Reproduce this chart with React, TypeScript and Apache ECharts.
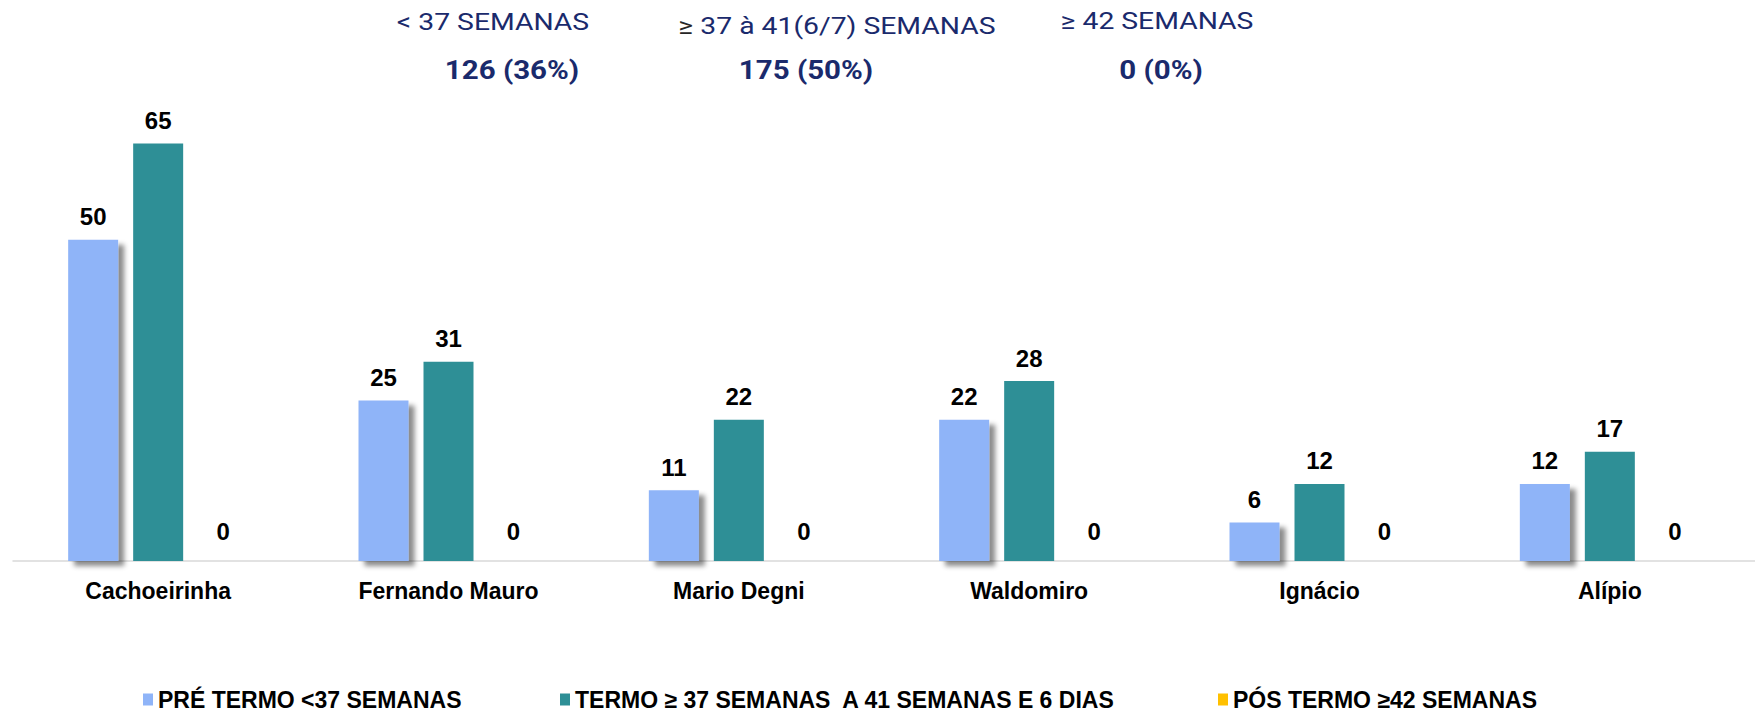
import React, { useEffect, useRef } from "react";
import * as echarts from "echarts";

const categories = ["Cachoeirinha", "Fernando Mauro", "Mario Degni", "Waldomiro", "Ignácio", "Alípio"];
const preTermo = [50, 25, 11, 22, 6, 12];
const termo = [65, 31, 22, 28, 12, 17];
const posTermo = [0, 0, 0, 0, 0, 0];
const seriesNames = [
  "PRÉ TERMO <37 SEMANAS",
  "TERMO ≥ 37 SEMANAS  A 41 SEMANAS E 6 DIAS",
  "PÓS TERMO ≥42 SEMANAS",
];
const headerLabels = ["< 37 SEMANAS", "{g|≥} 37 à 41(6/7) SEMANAS", "≥ 42 SEMANAS"];
const headerValues = ["126 (36%)", "175 (50%)", "0 (0%)"];

const NAVY = "#1a2a6c";
const BLUE = "#8fb4f8";
const TEAL = "#2e8f96";
const YELLOW = "#ffc000";

export default function App() {
  const ref = useRef<HTMLDivElement>(null);
  useEffect(() => {
    if (!ref.current) return;
    const chart = echarts.init(ref.current, null, { renderer: "svg" });
    const labelStyle = {
      show: true,
      position: "top",
      distance: 11,
      fontFamily: "Liberation Sans, Arial, sans-serif",
      fontWeight: "bold",
      fontSize: 24,
      color: "#000",
    };
    const headerX = [493, 837, 1157];
    const headerY = [22, 26, 21];
    const valueX = [512, 806, 1161];
    const graphics: any[] = [];
    headerLabels.forEach((t, i) => {
      graphics.push({
        type: "text",
        x: headerX[i],
        y: headerY[i],
        scaleX: 1.18,
        style: {
          text: t,
          fontFamily: "Roboto, sans-serif",
          fontSize: 24,
          fill: NAVY,
          align: "center",
          verticalAlign: "middle",
          rich: { g: { fontFamily: "Roboto, sans-serif", fontSize: 24, fill: "#262626" } },
        },
      });
    });
    headerValues.forEach((t, i) => {
      graphics.push({
        type: "text",
        x: valueX[i],
        y: 71,
        scaleX: 1.18,
        style: {
          text: t,
          fontFamily: "Roboto, sans-serif",
          fontWeight: "bold",
          fontSize: 25,
          fill: NAVY,
          align: "center",
          verticalAlign: "middle",
        },
      });
    });
    const legendLeft = [143, 560, 1218];
    const colors = [BLUE, TEAL, YELLOW];
    chart.setOption({
      animation: false,
      color: colors,
      grid: { left: 13, right: 0, top: 47, bottom: 151, containLabel: false },
      legend: seriesNames.map((n, i) => ({
        data: [n],
        left: legendLeft[i],
        top: 688,
        padding: 0,
        icon: "rect",
        itemWidth: 10,
        itemHeight: 12,
        selectedMode: false,
        textStyle: {
          fontFamily: "Liberation Sans, Arial, sans-serif",
          fontWeight: "bold",
          fontSize: 23,
          color: "#000",
        },
      })),
      xAxis: {
        type: "category",
        data: categories,
        axisLine: { lineStyle: { color: "#d9d9d9", width: 1.5 } },
        axisTick: { show: false },
        axisLabel: {
          margin: 18,
          fontFamily: "Liberation Sans, Arial, sans-serif",
          fontWeight: "bold",
          fontSize: 23,
          color: "#000",
        },
      },
      yAxis: {
        type: "value",
        min: 0,
        max: 80,
        show: false,
        splitLine: { show: false },
      },
      series: [
        {
          name: seriesNames[0],
          type: "bar",
          data: preTermo,
          barWidth: 50,
          barGap: "30%",
          itemStyle: {
            color: BLUE,
            shadowColor: "rgba(0,0,0,0.45)",
            shadowBlur: 5,
            shadowOffsetX: 6,
            shadowOffsetY: 5,
          },
          label: labelStyle,
        },
        {
          name: seriesNames[1],
          type: "bar",
          data: termo,
          barWidth: 50,
          barGap: "30%",
          itemStyle: { color: TEAL },
          label: labelStyle,
        },
        {
          name: seriesNames[2],
          type: "bar",
          data: posTermo,
          barWidth: 50,
          barGap: "30%",
          itemStyle: { color: YELLOW },
          label: { ...labelStyle, distance: 18 },
        },
      ],
      graphic: graphics,
    });
    return () => chart.dispose();
  }, []);
  return (
    <div
      ref={ref}
      style={{ position: "fixed", left: 0, top: 0, width: 1755, height: 712, background: "#fff" }}
    />
  );
}
